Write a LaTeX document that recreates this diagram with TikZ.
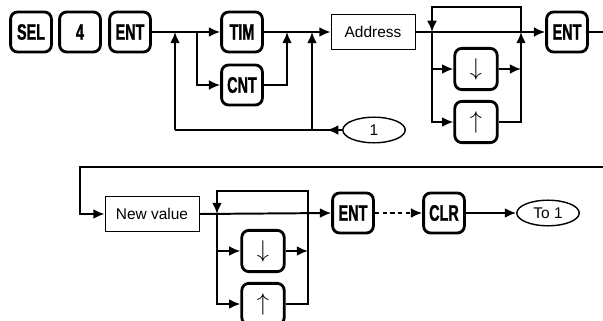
\documentclass[tikz,border=0pt]{standalone}
\usepackage{fontspec}
\setsansfont{Liberation Sans}
\newfontfamily\keyfont[FakeStretch=0.64,FakeBold=1.2]{Liberation Sans}
\usetikzlibrary{arrows.meta,shapes.geometric}
\tikzset{
	key/.style={draw, line width=2pt, rounded corners=5pt, minimum width=1.02cm, minimum height=1cm, inner sep=0pt, font=\keyfont\bfseries\fontsize{16}{16}\selectfont},
	arrkey/.style={key, minimum width=1.06cm, minimum height=1.03cm, font=\fontsize{16}{16}\selectfont},
	txtbox/.style={draw, line width=0.5pt, minimum height=0.86cm, inner sep=0pt, font=\sffamily\fontsize{11}{13}\selectfont},
	oval/.style={draw, ellipse, line width=1pt, minimum width=1.56cm, minimum height=0.64cm, inner sep=0pt, font=\sffamily\fontsize{11}{13}\selectfont},
	conn/.style={line width=1.4pt},
	arr/.style={conn, -{Latex[length=8pt, width=7pt]}}
}
\begin{document}
\begin{tikzpicture}[x=0.025cm, y=-0.025cm]
			\useasboundingbox (0,0) rectangle (603,321);
			\node[key] (sel) at (31,32) {SEL};
			\node[key] (four) at (80,32) {4};
			\node[key] (ent) at (130,32) {ENT};
			\node[key] (tim) at (242,32) {TIM};
			\node[key] (cnt) at (242,85) {CNT};
			\node[txtbox, minimum width=2.1cm] (addr) at (373,32) {Address};
			\node[key] (entb) at (567,32) {ENT};
			\node[arrkey] (dn) at (476,69) {$\downarrow$};
			\node[arrkey] (up) at (476,122) {$\uparrow$};
			\node[oval] (one) at (374,130) {1};
			\coordinate (j0) at (175,32);
			\coordinate (j1) at (197,32);
			\coordinate (j2) at (287,32);
			\coordinate (j3) at (312,32);
			\coordinate (lp) at (175,130);
			\coordinate (a1) at (432,32);
			\coordinate (a2) at (521,32);
			\coordinate (out1) at (603,32);
			\draw[arr] (ent.east) -- (tim.west);
			\draw[arr] (j1) |- (cnt.west);
			\draw[arr] (tim.east) -- (addr.west);
			\draw[arr] (cnt.east) -| (j2);
			\draw[arr] (one.west) -- ++(-15,0);
			\draw[conn] (one.west) -- (lp);
			\draw[arr] (lp) -- (j0);
			\draw[arr] (lp -| j3) -- (j3);
			\draw[arr] (addr.east) -- (entb.west);
			\draw[arr] (a2) -- ++(0,-25) -| (a1);
			\draw[arr] (a1) |- (dn.west);
			\draw[arr] (a1) |- (up.west);
			\draw[arr] (dn.east) -- (dn.east -| a2);
			\draw[arr] (up.east) -| (a2);
			\draw[conn] (entb.east) -- (out1);
			\node[txtbox, minimum width=2.35cm] (nv) at (152,214) {New value};
			\node[arrkey] (dnb) at (263,251) {$\downarrow$};
			\node[arrkey] (upb) at (263,304) {$\uparrow$};
			\node[key] (entc) at (353,213) {ENT};
			\node[key] (clr) at (444,213) {CLR};
			\node[oval] (toone) at (548,213) {To 1};
			\coordinate (out2) at (603,167);
			\coordinate (in2) at (80,167);
			\coordinate (b1) at (217,214);
			\coordinate (b2) at (308,214);
			\draw[arr] (out2) -- (in2) |- (nv.west);
			\draw[arr] (nv.east) -- (entc.west);
			\draw[arr] (b2) -- ++(0,-23) -| (b1);
			\draw[arr] (b1) |- (dnb.west);
			\draw[arr] (b1) |- (upb.west);
			\draw[arr] (dnb.east) -- (dnb.east -| b2);
			\draw[conn] (upb.east) -| (b2);
			\draw[arr, dash pattern=on 3pt off 2.5pt] (entc.east) -- (clr.west);
			\draw[arr] (clr.east) -- (toone.west);
\end{tikzpicture}
\end{document}
